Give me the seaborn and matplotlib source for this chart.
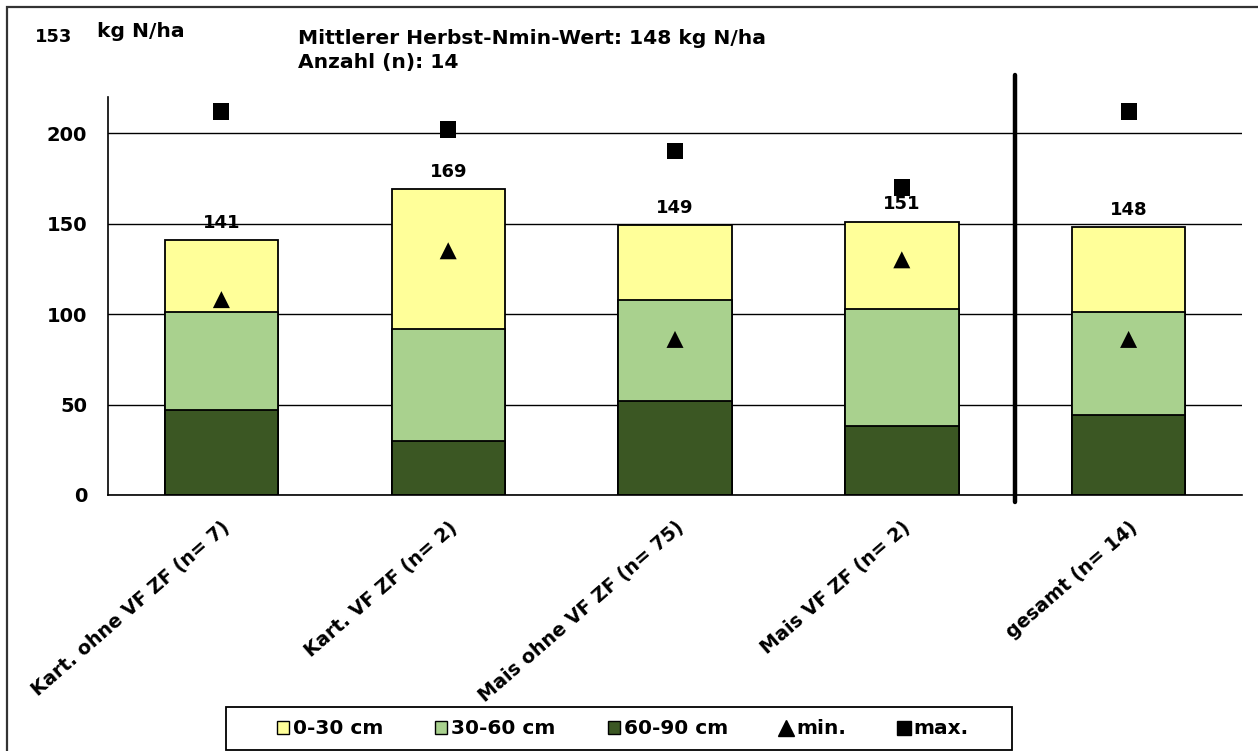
import matplotlib
matplotlib.use("Agg")
import matplotlib.pyplot as plt
from matplotlib.lines import Line2D
from matplotlib.patches import Patch, Rectangle
import numpy as np
import pandas as pd
import seaborn as sns

# --- data -------------------------------------------------------------
categories = [
    "Kart. ohne VF ZF (n= 7)",
    "Kart. VF ZF (n= 2)",
    "Mais ohne VF ZF (n= 75)",
    "Mais VF ZF (n= 2)",
    "gesamt (n= 14)",
]
layer_60_90 = [47, 30, 52, 38, 44]   # kg N/ha in 60-90 cm
layer_30_60 = [54, 62, 56, 65, 57]   # kg N/ha in 30-60 cm
layer_0_30 = [40, 77, 41, 48, 47]    # kg N/ha in 0-30 cm
n_min = [108, 135, 86, 130, 86]
n_max = [212, 202, 190, 170, 212]
yticks = [0, 50, 100, 150, 200]
legend_labels = ["0-30 cm", "30-60 cm", "60-90 cm", "min.", "max."]

header_value = "153"
header_unit = "kg N/ha"
header_title = "Mittlerer Herbst-Nmin-Wert: 148 kg N/ha"
header_count = "Anzahl (n): 14"

# --- styling ----------------------------------------------------------
sns.set_style("white")
plt.rcParams["font.family"] = ["DejaVu Sans"]
plt.rcParams["font.weight"] = "bold"
plt.rcParams["text.color"] = "black"
plt.rcParams["xtick.color"] = "black"
plt.rcParams["ytick.color"] = "black"
plt.rcParams["xtick.labelcolor"] = "black"
plt.rcParams["ytick.labelcolor"] = "black"

col_top = "#FFFF99"
col_mid = "#A9D18E"
col_low = "#3B5723"

W, H = 1258, 751
fig = plt.figure(figsize=(W / 100, H / 100), dpi=100)
ax = fig.add_axes([108 / W, 1 - 495 / H, (1242 - 108) / W, (495 - 97) / H])

df = pd.DataFrame({
    "cat": categories,
    "low": layer_60_90,
    "mid": layer_30_60,
    "top": layer_0_30,
    "vmin": n_min,
    "vmax": n_max,
})
df["cum_mid"] = df["low"] + df["mid"]
df["total"] = df["cum_mid"] + df["top"]

# stacked bars: draw cumulative heights from the top layer down
bar_kw = dict(width=0.5, edgecolor="black", linewidth=1.3, saturation=1, ax=ax)
sns.barplot(data=df, x="cat", y="total", color=col_top, **bar_kw)
sns.barplot(data=df, x="cat", y="cum_mid", color=col_mid, **bar_kw)
sns.barplot(data=df, x="cat", y="low", color=col_low, **bar_kw)

sns.scatterplot(data=df, x="cat", y="vmin", marker="^", s=150, color="black",
                edgecolor="none", ax=ax, zorder=5)
sns.scatterplot(data=df, x="cat", y="vmax", marker="s", s=135, color="black",
                edgecolor="none", ax=ax, zorder=5)

# total labels above the stacked bars
for i, tot in enumerate(df["total"]):
    ax.annotate(f"{tot:.0f}", (i, tot), xytext=(0, 12.5), textcoords="offset points",
                ha="center", va="center", fontsize=13, fontweight="bold", color="black")

# separator between the groups and the overall mean
ax.plot([3.5, 3.5], [-4, 232], color="black", lw=3.2, clip_on=False, zorder=6)

ax.set_xlim(-0.5, len(categories) - 0.5)
ax.set_ylim(0, 220)
ax.set_yticks(yticks)
ax.set_yticklabels([str(t) for t in yticks], fontsize=14, fontweight="bold")
ax.yaxis.grid(True, color="black", lw=1.0)
ax.set_axisbelow(True)

ax.set_xticks(range(len(categories)))
ax.set_xticklabels(categories, rotation=41, ha="right", rotation_mode="anchor",
                   fontsize=13.8, fontweight="bold")
ax.set_xticks(np.arange(-0.5, len(categories)), minor=True)
ax.tick_params(axis="x", which="major", length=0, pad=16.5)
ax.tick_params(axis="x", which="minor", length=6, width=1, color="black", direction="out")
ax.tick_params(axis="y", length=7, width=1, color="black", direction="out", pad=8)
ax.set_xlabel("")
ax.set_ylabel("")
for s in ["top", "right"]:
    ax.spines[s].set_visible(False)
for s in ["left", "bottom"]:
    ax.spines[s].set_color("black")
    ax.spines[s].set_linewidth(1.2)

# header texts
fig.text(35 / W, 1 - 42 / H, header_value, fontsize=12.9, fontweight="bold", va="baseline")
fig.text(97 / W, 1 - 37 / H, header_unit, fontsize=14.6, fontweight="bold", va="baseline")
fig.text(298 / W, 1 - 44 / H, header_title, fontsize=14.6, fontweight="bold", va="baseline")
fig.text(298 / W, 1 - 68 / H, header_count, fontsize=14.6, fontweight="bold", va="baseline")

# legend (entries without frame, box drawn separately)
handles = [
    Patch(facecolor=col_top, edgecolor="black", lw=1),
    Patch(facecolor=col_mid, edgecolor="black", lw=1),
    Patch(facecolor=col_low, edgecolor="black", lw=1),
    Line2D([], [], marker="^", color="black", ls="none", markersize=11),
    Line2D([], [], marker="s", color="black", ls="none", markersize=10),
]
fig.legend(handles, legend_labels, loc="center", ncol=5,
           bbox_to_anchor=(623 / W, 1 - 729 / H), frameon=False,
           handlelength=0.58, handleheight=0.58, handletextpad=0.2,
           columnspacing=2.6, borderpad=0.0, labelcolor="black",
           prop={"weight": "bold", "size": 14.5})
fig.add_artist(Rectangle((226 / W, 1 - 750 / H), (1012 - 226) / W, 43 / H,
                         transform=fig.transFigure, fill=False,
                         edgecolor="black", lw=1.3))

# outer frame of the figure
fig.add_artist(Rectangle((7 / W, -0.1), 1.2, 1 - 7 / H + 0.1, transform=fig.transFigure,
                         fill=False, edgecolor="#333333", lw=1.6))

fig.savefig("out.png", dpi=100)
